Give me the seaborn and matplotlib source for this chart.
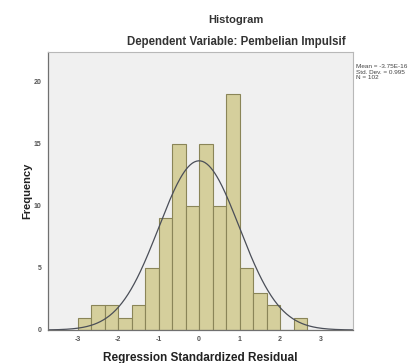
import numpy as np
import pandas as pd
import matplotlib
matplotlib.use("Agg")
import matplotlib.pyplot as plt
import seaborn as sns

# bins one third of a standard deviation wide, counts
bin_edges = list(np.linspace(-3, 8 / 3, 18))
counts = [1, 2, 2, 1, 2, 5, 9, 15, 10, 15, 10, 19, 5, 3, 2, 0, 1]
bin_centers = [(a + b) / 2 for a, b in zip(bin_edges[:-1], bin_edges[1:])]

mean_val = -3.75e-16
std_val = 0.995
n_obs = 102

x_ticks = [-3, -2, -1, 0, 1, 2, 3]
y_ticks = [0, 5, 10, 15, 20]

sns.set_style("white")
plt.rcParams['font.family'] = ['Liberation Sans', 'DejaVu Sans']
plt.rcParams['font.weight'] = 'bold'
plt.rcParams['axes.unicode_minus'] = False

fig = plt.figure(figsize=(4.19, 3.63), dpi=100)
ax = fig.add_axes([48 / 419, 1 - 330 / 363, (353 - 48) / 419, (330 - 52) / 363])
ax.set_facecolor('#F0F0F0')

df = pd.DataFrame({'resid': bin_centers, 'count': counts})
sns.histplot(data=df, x='resid', weights='count', bins=bin_edges, ax=ax,
             color='#D5CF9C', edgecolor='#8A8558', linewidth=0.8, alpha=1)

# fitted normal curve scaled to the histogram
xs = np.linspace(-3.75, 3.8, 300)
bw = bin_edges[1] - bin_edges[0]
pdf = np.exp(-0.5 * ((xs - mean_val) / std_val) ** 2) / (std_val * np.sqrt(2 * np.pi))
sns.lineplot(x=xs, y=pdf * n_obs * bw, ax=ax, color='#4A4E58', linewidth=0.9)

ax.set_xlim(-3.73, 3.8)
ax.set_ylim(0, 22.4)
ax.set_xticks(x_ticks)
ax.set_yticks(y_ticks)
ax.tick_params(axis='both', direction='out', length=3, width=0.6, colors='#555555',
               labelsize=5, pad=1.5)
for side in ['top', 'right']:
    ax.spines[side].set_color('#B8B8B8')
    ax.spines[side].set_linewidth(0.8)
for side in ['left', 'bottom']:
    ax.spines[side].set_color('#707070')
    ax.spines[side].set_linewidth(0.9)

ax.set_xlabel('Regression Standardized Residual', fontsize=8.5, fontweight='bold',
              labelpad=6, color='#222222')
ax.set_ylabel('Frequency', fontsize=8, fontweight='bold', labelpad=1, color='#222222')

fig.text(236 / 419, 1 - 20 / 363, 'Histogram', ha='center', va='center',
         fontsize=8, fontweight='bold', color='#333333')
fig.text(236 / 419, 1 - 42 / 363, 'Dependent Variable: Pembelian Impulsif', ha='center',
         va='center', fontsize=8.3, fontweight='bold', color='#333333')
fig.text(356 / 419, 1 - 64 / 363,
         'Mean = -3.75E-16\nStd. Dev. = 0.995\nN = 102',
         ha='left', va='top', fontsize=4.6, fontweight='normal', color='#444444',
         linespacing=1.15)

fig.savefig('out.png', dpi=100, facecolor='white')
